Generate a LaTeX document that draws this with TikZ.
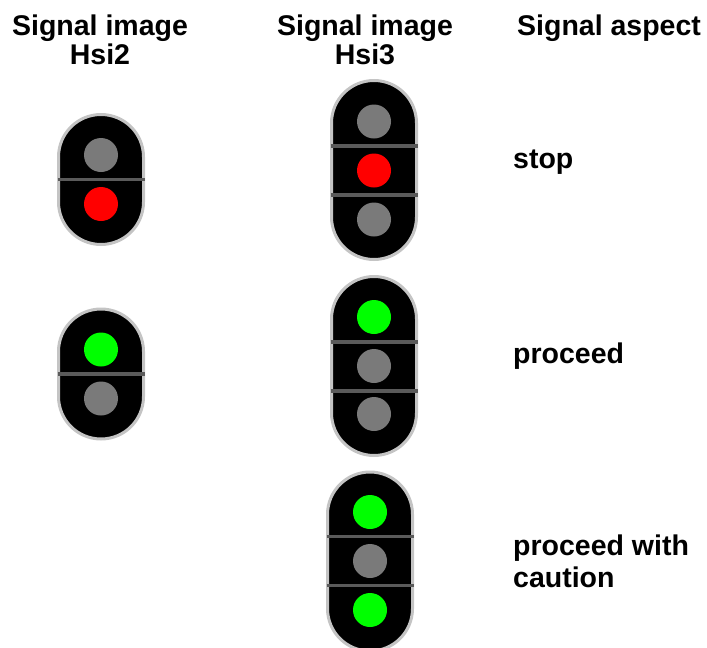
\documentclass[tikz,border=0pt]{standalone}
\usepackage{fontspec}
\setmainfont{Liberation Sans}
\usetikzlibrary{calc}
\definecolor{lampgray}{HTML}{7A7A7A}
\definecolor{lampred}{HTML}{FF0000}
\definecolor{lampgreen}{HTML}{00FF00}
\definecolor{rimgray}{HTML}{C4C4C4}
\definecolor{sepgray}{HTML}{5A5A5A}
\newcommand\sigbox[3]{%
  \draw[sigbody] ($(#1,#2)+(-42.5,-#3)$) rectangle ($(#1,#2)+(42.5,#3)$);}
\newcommand\sigsep[2]{%
  \draw[sepline] ($(#1,#2)+(-43.5,0)$) -- ($(#1,#2)+(43.5,0)$);}
\begin{document}
\begin{tikzpicture}[x=1pt,y=-1pt,
  sigbody/.style={fill=black,draw=rimgray,line width=3pt,rounded corners=42.5pt},
  sepline/.style={draw=sepgray,line width=3.2pt},
  lamp/.style={circle,draw=none,inner sep=0pt,minimum size=34pt},
  head/.style={font=\fontsize{28.5}{30}\selectfont\bfseries,inner sep=0pt,anchor=base},
  aspect/.style={font=\fontsize{28.5}{30}\selectfont\bfseries,inner sep=0pt,anchor=base west}]
\useasboundingbox (0,0) rectangle (707,648);
% headers
\node[head] (h1a) at (100,35) {Signal image};
\node[head] (h1b) at (100,64) {Hsi2};
\node[head] (h2a) at (365,35) {Signal image};
\node[head] (h2b) at (365,64) {Hsi3};
\node[aspect] (h3a) at (517,35) {Signal aspect};
% Hsi2 stop
\sigbox{101}{179.5}{65}
\sigsep{101}{179.5}
\node[lamp,fill=lampgray] (a1) at (101,155) {};
\node[lamp,fill=lampred] (a2) at (101,204) {};
% Hsi2 proceed
\sigbox{101}{374}{65}
\sigsep{101}{374}
\node[lamp,fill=lampgreen] (b1) at (101,349.5) {};
\node[lamp,fill=lampgray] (b2) at (101,398.5) {};
% Hsi3 stop
\sigbox{374}{170}{89.5}
\sigsep{374}{146}
\sigsep{374}{195}
\node[lamp,fill=lampgray] (c1) at (374,121.5) {};
\node[lamp,fill=lampred] (c2) at (374,170.5) {};
\node[lamp,fill=lampgray] (c3) at (374,219.5) {};
% Hsi3 proceed
\sigbox{374}{366}{89.5}
\sigsep{374}{342}
\sigsep{374}{391}
\node[lamp,fill=lampgreen] (d1) at (374,317) {};
\node[lamp,fill=lampgray] (d2) at (374,366) {};
\node[lamp,fill=lampgray] (d3) at (374,414) {};
% Hsi3 proceed with caution
\sigbox{370}{561.5}{89.5}
\sigsep{370}{536.5}
\sigsep{370}{585.5}
\node[lamp,fill=lampgreen] (e1) at (370,512) {};
\node[lamp,fill=lampgray] (e2) at (370,561) {};
\node[lamp,fill=lampgreen] (e3) at (370,610) {};
% aspect labels
\node[aspect] (l1) at (513,168) {stop};
\node[aspect] (l2) at (513,363) {proceed};
\node[aspect] (l3a) at (513,555) {proceed with};
\node[aspect] (l3b) at (513,587) {caution};
\end{tikzpicture}
\end{document}
